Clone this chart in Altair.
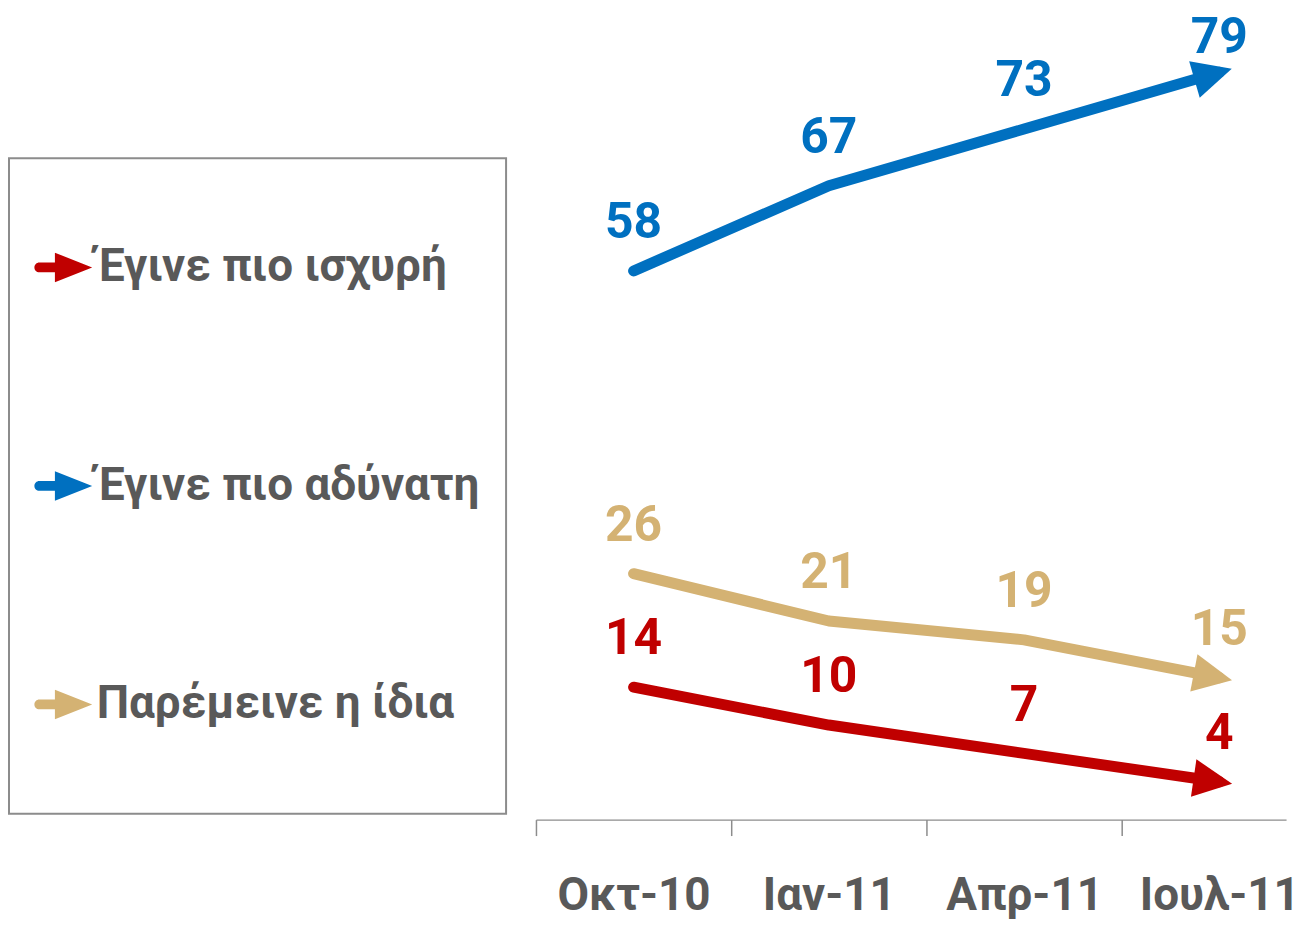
import json
import math
import altair as alt
import pandas as pd

# ---- data ----
months = ["Οκτ-10", "Ιαν-11", "Απρ-11", "Ιουλ-11"]
series_names = ["Έγινε πιο ισχυρή", "Έγινε πιο αδύνατη", "Παρέμεινε η ίδια"]
stronger = [14, 10, 7, 4]
weaker = [58, 67, 73, 79]
same = [26, 21, 19, 15]
series_colors = ["#C00000", "#0070C0", "#D4B273"]

values_by_series = [stronger, weaker, same]

# ---- layout / style ----
FONT = "Roboto"
GRAY = "#595959"
LINE_GRAY = "#8C8C8C"
STEP = 196.0          # pixels between two months
W, H = 753, 812
X_DOMAIN = [-0.5, -0.5 + W / STEP]
Y_DOMAIN = [0, 85.5]
px_x = W / (X_DOMAIN[1] - X_DOMAIN[0])
px_y = H / (Y_DOMAIN[1] - Y_DOMAIN[0])

HEAD_PATH = "M0.619,0 L-1.238,-0.905 L-1.238,0.905 Z"
LEG_PATH = ("M-0.83,-0.17 L-0.29,-0.17 L-0.29,-0.51 L1,0 L-0.29,0.51 "
            "L-0.29,0.17 L-0.83,0.17 A0.17,0.17 0 0 1 -0.83,-0.17 Z")

rows = []
for name, vals in zip(series_names, values_by_series):
    for i, v in enumerate(vals):
        rows.append({"series": name, "idx": i, "value": v})
df = pd.DataFrame(rows)

heads = []
for name, vals in zip(series_names, values_by_series):
    ang = math.degrees(math.atan2(-(vals[-1] - vals[-2]) * px_y, px_x)) % 360
    heads.append({"series": name, "idx": len(vals) - 1, "value": vals[-1], "angle": ang})
heads_df = pd.DataFrame(heads)

color = alt.Color("series:N", scale=alt.Scale(domain=series_names, range=series_colors),
                  legend=None)

label_expr = ("(datum.value % 1 === 0 && datum.value >= 0) ? "
              + json.dumps(months, ensure_ascii=False) + "[datum.value] : ''")

x_enc = alt.X(
    "idx:Q",
    scale=alt.Scale(domain=X_DOMAIN, nice=False, zero=False),
    axis=alt.Axis(
        values=[-0.5, 0, 0.5, 1, 1.5, 2, 2.5, 3],
        labelExpr=label_expr,
        title=None,
        grid=False,
        domainColor=LINE_GRAY,
        domainWidth=1.5,
        tickColor=LINE_GRAY,
        tickWidth=1.5,
        tickSize=16,
        tickOpacity={"condition": {"test": "datum.value % 1 !== 0", "value": 1}, "value": 0},
        labelFont=FONT,
        labelFontSize=46,
        labelFontWeight="bold",
        labelColor=GRAY,
        labelPadding=38,
        labelFlush=False,
        labelOverlap=False,
    ),
)
y_scale = alt.Scale(domain=Y_DOMAIN, nice=False, zero=True)

lines = alt.Chart(df).mark_line(strokeWidth=11, strokeCap="round", strokeJoin="round").encode(
    x=x_enc,
    y=alt.Y("value:Q", scale=y_scale, axis=None),
    color=color,
)

arrowheads = alt.Chart(heads_df).mark_point(
    shape=HEAD_PATH, filled=True, size=1764, opacity=1, strokeWidth=0
).encode(
    x=x_enc,
    y=alt.Y("value:Q", scale=y_scale, axis=None),
    color=color,
    angle=alt.Angle("angle:Q", scale=None),
)

labels = alt.Chart(df).transform_calculate(
    label_y="min(datum.value + 5.05, 82.6)"
).mark_text(
    font=FONT, fontSize=50, fontWeight="bold", baseline="middle", align="center"
).encode(
    x=x_enc,
    y=alt.Y("label_y:Q", scale=y_scale, axis=None),
    text=alt.Text("value:Q"),
    color=color,
)

right = alt.layer(lines, arrowheads, labels).properties(width=W, height=H)

# ---- legend panel ----
legend_df = pd.DataFrame({"series": series_names})
lp_y = alt.Y("series:N", sort=series_names,
             scale=alt.Scale(domain=series_names, padding=0.5), axis=None)

icons = alt.Chart(legend_df).mark_point(
    shape=LEG_PATH, filled=True, size=3364, opacity=1, strokeWidth=0
).encode(x=alt.value(54.5), y=lp_y, color=color)

legend_text = alt.Chart(legend_df).mark_text(
    align="left", baseline="middle", font=FONT, fontSize=46, fontWeight="bold", color=GRAY
).encode(x=alt.value(88), y=lp_y, text="series:N")

legend_panel = alt.layer(icons, legend_text).properties(
    width=499,
    height=658,
    view=alt.ViewBackground(stroke=LINE_GRAY, strokeWidth=2),
)

# empty spacer above the legend box
spacer = alt.Chart(legend_df).mark_point(opacity=0, size=4).encode(
    x=alt.value(250), y=alt.value(70)
).properties(width=499, height=146)

left = alt.vconcat(spacer, legend_panel, spacing=0)

chart = alt.hconcat(left, right, spacing=27).properties(
    padding={"left": 0, "top": 0, "right": 0, "bottom": 0}
).configure_view(stroke="transparent")

chart.save("out.html", embed_options={"renderer": "svg", "actions": False})
